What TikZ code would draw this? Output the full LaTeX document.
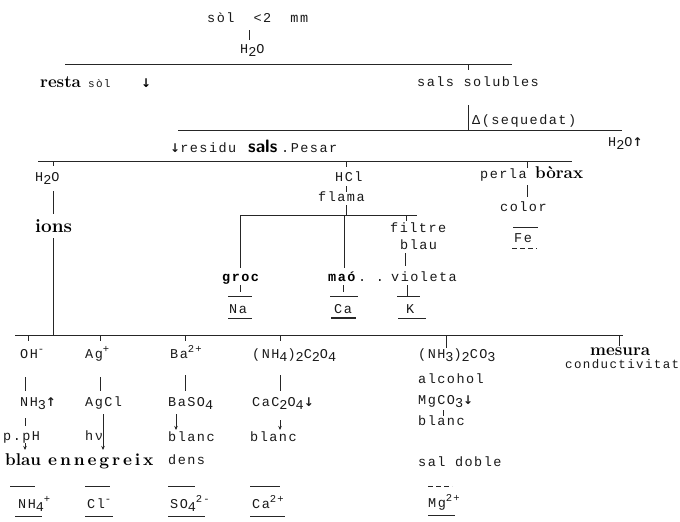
\documentclass[tikz,border=0pt]{standalone}
\usepackage{fontspec}
\usetikzlibrary{arrows.meta}
\newfontfamily\tw[LetterSpace=11]{Liberation Mono}
\newfontfamily\arr{DejaVu Sans}
\newfontfamily\widebf[LetterSpace=17]{lmroman10-bold.otf}
% typewriter half-line shifts
\newcommand\lo[1]{\raisebox{-0.55ex}{#1}}
\newcommand\hi[1]{\raisebox{0.75ex}{\fontsize{10.5}{11}\selectfont#1}}
\newcommand\dn{{\arr\bfseries\fontsize{12}{12}\selectfont ↓}}
\newcommand\up{{\arr\bfseries\fontsize{12}{12}\selectfont ↑}}
\tikzset{
  tt/.style={font=\tw\fontsize{13.5}{15}\selectfont, text=black!90, inner sep=0pt, anchor=base west},
  ttb/.style={tt, font=\tw\bfseries\fontsize{13.5}{15}\selectfont, text=black},
  big/.style={font=\rmfamily\bfseries\fontsize{17}{20}\selectfont, text=black, inner sep=0pt, anchor=base west},
  ln/.style={line width=0.8pt, black!85},
  arw/.style={ln, -{Stealth[length=4pt,width=3.5pt]}},
}
\begin{document}
\begin{tikzpicture}[x=1pt,y=-1pt]
\useasboundingbox[fill=white] (0,0) rectangle (680,522);

% ---------- soil sample, washing with water ----------
\node[tt] (sol) at (207,22) {sòl~~<2~~mm};
\node[tt] (wA) at (240,53) {H\lo{2}O};
\draw[ln] (249,30) -- (249,40);
\coordinate (b1L) at (65,64);  \coordinate (b1R) at (512,64);
\draw[ln] (b1L) -- (b1R);

\node[big] (resta) at (40,87) {resta};
\node[tt, font=\tw\fontsize{11}{13}\selectfont] (restasol) at (88,87) {sòl};
\node[inner sep=0pt, anchor=base west] (restadn) at (141,87) {\dn};

\node[tt] (solub) at (417,86) {sals~solubles};
\draw[ln] (468,64) -- (468,70);
\draw[ln] (468,105) -- (468,130);
\node[tt] (dry) at (472,124) {Δ(sequedat)};

% ---------- drying ----------
\coordinate (b2L) at (178,130); \coordinate (b2R) at (622,130);
\draw[ln] (b2L) -- (b2R);
\node[tt] (residu) at (170,152) {\dn residu};
\node[big, font=\sffamily\bfseries\fontsize{18}{20}\selectfont] (sals) at (248,152) {sals};
\node[tt] (pesar) at (281,152) {.Pesar};
\node[tt] (wB) at (608,146) {H\lo{2}O\up};

% ---------- residue: three tests ----------
\coordinate (b3L) at (38,161); \coordinate (b3R) at (572,161);
\draw[ln] (b3L) -- (b3R);

\node[tt] (wC) at (35,181) {H\lo{2}O};
\draw[ln] (53,161) -- (53,166);
\draw[ln] (53,191) -- (53,214);
\node[big, font=\rmfamily\bfseries\fontsize{19}{22}\selectfont] (ions) at (35,232) {ions};
\draw[ln] (53,238) -- (53,335);

% flame test
\node[tt] (hcl) at (335,181) {HCl};
\draw[ln] (346,161) -- (346,167);
\draw[ln] (346,186) -- (346,192);
\node[tt] (flama) at (318,201) {flama};
\draw[ln] (346,205) -- (346,215);
\coordinate (b4L) at (240,215); \coordinate (b4R) at (417,215);
\draw[ln] (b4L) -- (b4R);
\draw[ln] (240,215) -- (240,268);
\draw[ln] (344,215) -- (344,268);
\draw[ln] (406,215) -- (406,221);
\node[tt] (filtre) at (390,232) {filtre};
\node[tt] (blauf) at (400,249) {blau};
\draw[ln] (405,253) -- (405,266);

\node[ttb] (groc) at (222,281) {groc};
\node[ttb] (mao) at (328,281) {maó};
\node[tt] (dots) at (358,281) {.~.};
\node[tt] (viol) at (391,281) {violeta};

\draw[ln] (240,285) -- (240,292);
\draw[ln] (343,285) -- (343,292);
\draw[ln] (407,285) -- (407,296);
\draw[ln] (228,296) -- (252,296);
\draw[ln] (330,296) -- (358,296);
\draw[ln] (397,296) -- (420,296);

\node[tt] (na) at (229,313) {Na};
\node[tt] (ca) at (334,313) {Ca};
\node[tt] (k) at (406,313) {K};
\draw[ln] (228,318) -- (252,318);
\draw[ln, line width=1.2pt] (331,318) -- (356,318);
\draw[ln] (398,318) -- (426,318);

% borax bead
\draw[ln] (527,161) -- (527,168);
\node[tt] (perla) at (480,178) {perla};
\node[big] (borax) at (535,178) {bòrax};
\draw[ln] (527,185) -- (527,197);
\node[tt] (color) at (500,211) {color};
\draw[ln] (513,227) -- (538,227);
\node[tt] (fe) at (514,242) {Fe};
\draw[ln, dashed, dash pattern=on 5pt off 3pt] (512,248) -- (537,248);

% ---------- ions in solution ----------
\coordinate (b5L) at (15,335); \coordinate (b5R) at (623,335);
\draw[ln] (b5L) -- (b5R);
\foreach \x in {28,100,185,280} \draw[ln] (\x,335) -- (\x,341);
\draw[ln] (446,335) -- (446,348);
\draw[ln] (619,335) -- (619,346);

\node[tt] (oh) at (20,358) {OH\hi{-}};
\node[tt] (ag) at (85,358) {Ag\hi{+}};
\node[tt] (ba) at (170,358) {Ba\hi{2+}};
\node[tt] (oxa) at (252,358) {(NH\lo{4})\lo{2}C\lo{2}O\lo{4}};
\node[tt] (carb) at (418,358) {(NH\lo{3})\lo{2}CO\lo{3}};
\node[big] (mesura) at (590,355) {mesura};
\node[tt, font=\tw\fontsize{12.5}{14}\selectfont] (cond) at (565,368) {conductivitat};

\draw[ln] (25,377) -- (25,391);
\draw[ln] (100,377) -- (100,391);
\draw[ln] (185,375) -- (185,391);
\draw[ln] (280,375) -- (280,391);

\node[tt] (nh3) at (20,406) {NH\lo{3}\up};
\node[tt] (agcl) at (85,406) {AgCl};
\node[tt] (baso) at (168,406) {BaSO\lo{4}};
\node[tt] (caox) at (252,406) {CaC\lo{2}O\lo{4}\dn};

\node[tt] (alc) at (418,383) {alcohol};
\node[tt] (mgco) at (418,404) {MgCO\lo{3}\dn};
\draw[ln] (443,410) -- (443,416);
\node[tt] (blancm) at (418,425) {blanc};
\node[tt] (doble) at (418,466) {sal~doble};

\draw[ln] (25,418) -- (25,426);
\node[tt] (ph) at (3,440) {p.pH};
\draw[arw] (25,443) -- (25,450);
\node[tt] (hv) at (85,440) {hν};
\draw[arw] (103,414) -- (103,450);
\draw[arw] (176,414) -- (176,430);
\node[tt] (blancb) at (168,441) {blanc};
\node[tt] (dens) at (168,464) {dens};
\draw[arw] (280,420) -- (280,430);
\node[tt] (blancc) at (250,441) {blanc};

\node[big] (blau) at (5,465) {blau};
\node[inner sep=0pt, anchor=base west, font=\widebf\fontsize{17}{20}\selectfont] (enn) at (48,465) {ennegreix};

% identified ions
\draw[ln] (10,486) -- (35,486);
\draw[ln] (85,486) -- (110,486);
\draw[ln] (168,486) -- (195,486);
\draw[ln] (250,486) -- (280,486);
\draw[ln, dashed, dash pattern=on 5pt off 3pt] (428,486) -- (452,486);

\node[tt] (nh4) at (18,508) {NH\lo{4}\hi{+}};
\node[tt] (cl) at (87,508) {Cl\hi{-}};
\node[tt] (so4) at (170,508) {SO\lo{4}\hi{2-}};
\node[tt] (ca2) at (252,508) {Ca\hi{2+}};
\node[tt] (mg2) at (428,507) {Mg\hi{2+}};

\draw[ln] (15,516) -- (42,516);
\draw[ln] (85,516) -- (113,516);
\draw[ln] (168,516) -- (205,516);
\draw[ln] (250,516) -- (285,516);
\draw[ln] (428,515) -- (455,515);
\end{tikzpicture}
\end{document}
